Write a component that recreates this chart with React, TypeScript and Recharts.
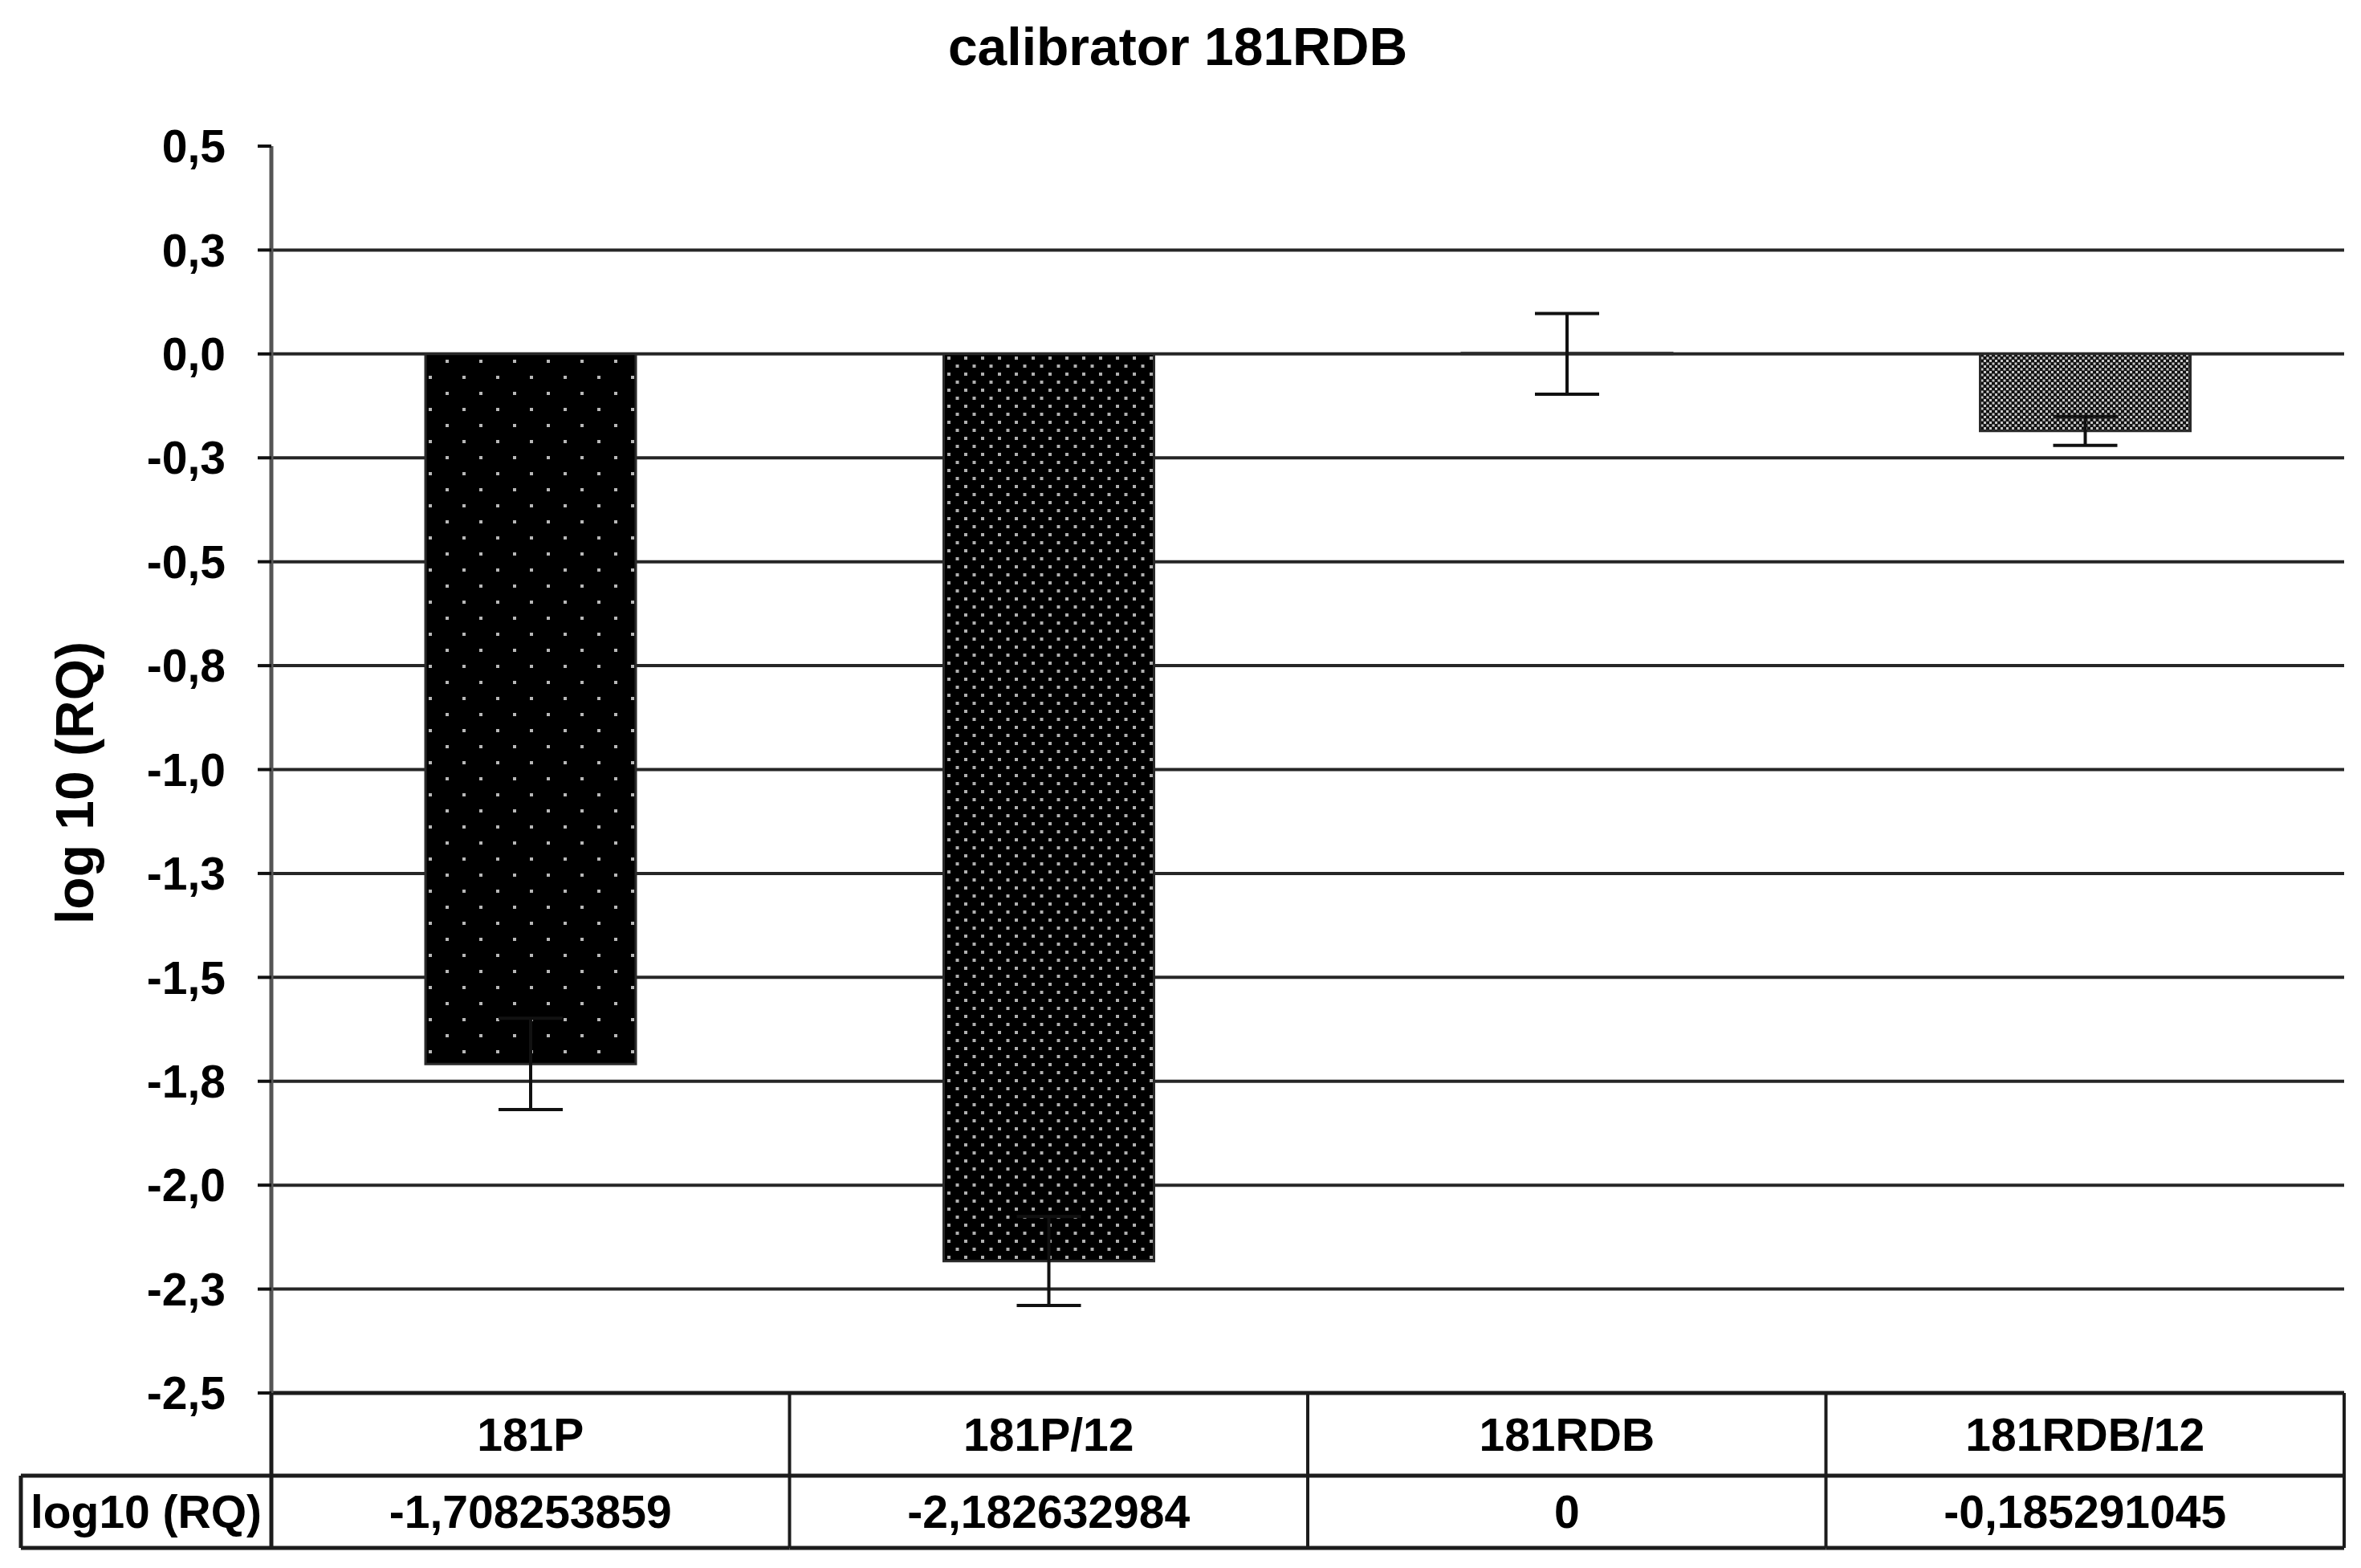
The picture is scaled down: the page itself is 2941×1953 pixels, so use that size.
import React from 'react';
import { BarChart, Bar, XAxis, YAxis, CartesianGrid, Cell, ErrorBar } from 'recharts';

const categories = ['181P', '181P/12', '181RDB', '181RDB/12'];
const values = [-1.708253859, -2.182632984, 0, -0.185291045];
const errors = [0.11, 0.107, 0.097, 0.035];
const patterns = ['url(#dotsWide)', 'url(#dotsTight)', 'url(#dotsFine)', 'url(#dotsFine)'];

const yTicks = [0.5, 0.25, 0, -0.25, -0.5, -0.75, -1, -1.25, -1.5, -1.75, -2, -2.25, -2.5];
const yTickLabels = ['0,5', '0,3', '0,0', '-0,3', '-0,5', '-0,8', '-1,0', '-1,3', '-1,5', '-1,8', '-2,0', '-2,3', '-2,5'];
const gridValues = [0.25, 0, -0.25, -0.5, -0.75, -1, -1.25, -1.5, -1.75, -2, -2.25];

const W = 2941;
const H = 1953;
const PLOT_LEFT = 338;
const PLOT_RIGHT = 2920;
const BAND = (PLOT_RIGHT - PLOT_LEFT) / categories.length;
const TABLE_LEFT = 26;
const ROW1_H = 103;
const ROW2_H = 90;
const FONT = '"Liberation Sans", Arial, sans-serif';
const LINE = '#1c1c1c';

const chartData = categories.map((name, i) => ({
  name,
  value: values[i],
  err: errors[i],
  label: String(values[i]).replace('.', ','),
}));

function TableTick(props: any) {
  const { x, y, payload, index } = props;
  const left = x - BAND / 2;
  const right = x + BAND / 2;
  const r1 = y + ROW1_H;
  const r2 = r1 + ROW2_H;
  const row = chartData.find((d) => d.name === payload.value);
  const textStyle = { fontFamily: FONT, fontWeight: 'bold' as const, fontSize: 57, fill: '#000' };
  return (
    <g>
      {index === 0 && (
        <g>
          <line x1={left} y1={y} x2={left} y2={r2} stroke={LINE} strokeWidth={5} />
          <line x1={TABLE_LEFT} y1={r1} x2={TABLE_LEFT} y2={r2} stroke={LINE} strokeWidth={5} />
          <line x1={TABLE_LEFT} y1={r1} x2={left} y2={r1} stroke={LINE} strokeWidth={5} />
          <line x1={TABLE_LEFT} y1={r2} x2={left} y2={r2} stroke={LINE} strokeWidth={5} />
          <text x={(TABLE_LEFT + left) / 2} y={(r1 + r2) / 2} textAnchor="middle" dominantBaseline="central" style={textStyle}>
            log10 (RQ)
          </text>
        </g>
      )}
      <line x1={right} y1={y} x2={right} y2={r2} stroke={LINE} strokeWidth={4} />
      <line x1={left} y1={r1} x2={right} y2={r1} stroke={LINE} strokeWidth={5} />
      <line x1={left} y1={r2} x2={right} y2={r2} stroke={LINE} strokeWidth={5} />
      <text x={x} y={(y + r1) / 2} textAnchor="middle" dominantBaseline="central" style={textStyle}>
        {payload.value}
      </text>
      <text x={x} y={(r1 + r2) / 2} textAnchor="middle" dominantBaseline="central" style={textStyle}>
        {row ? row.label : ''}
      </text>
    </g>
  );
}

export default function App() {
  return (
    <div style={{ position: 'absolute', left: 0, top: 0, width: W, height: H, background: '#fff' }}>
      <svg width={0} height={0} style={{ position: 'absolute' }}>
        <defs>
          <pattern id="dotsWide" patternUnits="userSpaceOnUse" width={42} height={40}>
            <rect width={42} height={40} fill="#000" />
            <rect x={9} y={8} width={4} height={4} fill="#b8b8b8" />
            <rect x={30} y={28} width={4} height={4} fill="#b8b8b8" />
          </pattern>
          <pattern id="dotsTight" patternUnits="userSpaceOnUse" width={21} height={20}>
            <rect width={21} height={20} fill="#000" />
            <rect x={4} y={4} width={4} height={4} fill="#b0b0b0" />
            <rect x={14.5} y={14} width={4} height={4} fill="#b0b0b0" />
          </pattern>
          <pattern id="dotsFine" patternUnits="userSpaceOnUse" width={7} height={7}>
            <rect width={7} height={7} fill="#111" />
            <rect x={0} y={0} width={3} height={3} fill="#c8c8c8" />
            <rect x={3.5} y={3.5} width={3} height={3} fill="#c8c8c8" />
          </pattern>
        </defs>
      </svg>
      <div
        style={{
          position: 'absolute',
          left: 1467,
          top: 21,
          transform: 'translateX(-50%)',
          fontFamily: FONT,
          fontWeight: 'bold',
          fontSize: 66,
          lineHeight: '74px',
          whiteSpace: 'nowrap',
        }}
      >
        calibrator 181RDB
      </div>
      <div
        style={{
          position: 'absolute',
          left: 93,
          top: 975,
          transform: 'translate(-50%, -50%) rotate(-90deg)',
          fontFamily: FONT,
          fontWeight: 'bold',
          fontSize: 66,
          lineHeight: '74px',
          whiteSpace: 'nowrap',
        }}
      >
        log 10 (RQ)
      </div>
      <BarChart width={W} height={H} data={chartData} margin={{ top: 182, right: W - PLOT_RIGHT, bottom: 18, left: 0 }}>
        <CartesianGrid horizontal vertical={false} horizontalValues={gridValues} stroke="#262626" strokeWidth={4} />
        <XAxis
          dataKey="name"
          height={H - 18 - 1735}
          tickSize={0}
          tickMargin={0}
          axisLine={{ stroke: LINE, strokeWidth: 5 }}
          tickLine={false}
          tick={<TableTick />}
          interval={0}
        />
        <YAxis
          width={PLOT_LEFT}
          domain={[-2.5, 0.5]}
          ticks={yTicks}
          interval={0}
          tickFormatter={(v: number) => yTickLabels[yTicks.indexOf(v)]}
          tickSize={17}
          tickMargin={40}
          axisLine={{ stroke: '#555', strokeWidth: 5 }}
          tickLine={{ stroke: '#111', strokeWidth: 4 }}
          tick={{ fill: '#000', fontSize: 57, fontWeight: 'bold', fontFamily: FONT }}
        />
        <Bar dataKey="value" barSize={262} minPointSize={1} stroke="#2a2a2a" strokeWidth={3} isAnimationActive={false}>
          {chartData.map((d, i) => (
            <Cell key={d.name} fill={patterns[i]} />
          ))}
          <ErrorBar dataKey="err" width={40} strokeWidth={4} stroke="#111" direction="y" />
        </Bar>
      </BarChart>
    </div>
  );
}
